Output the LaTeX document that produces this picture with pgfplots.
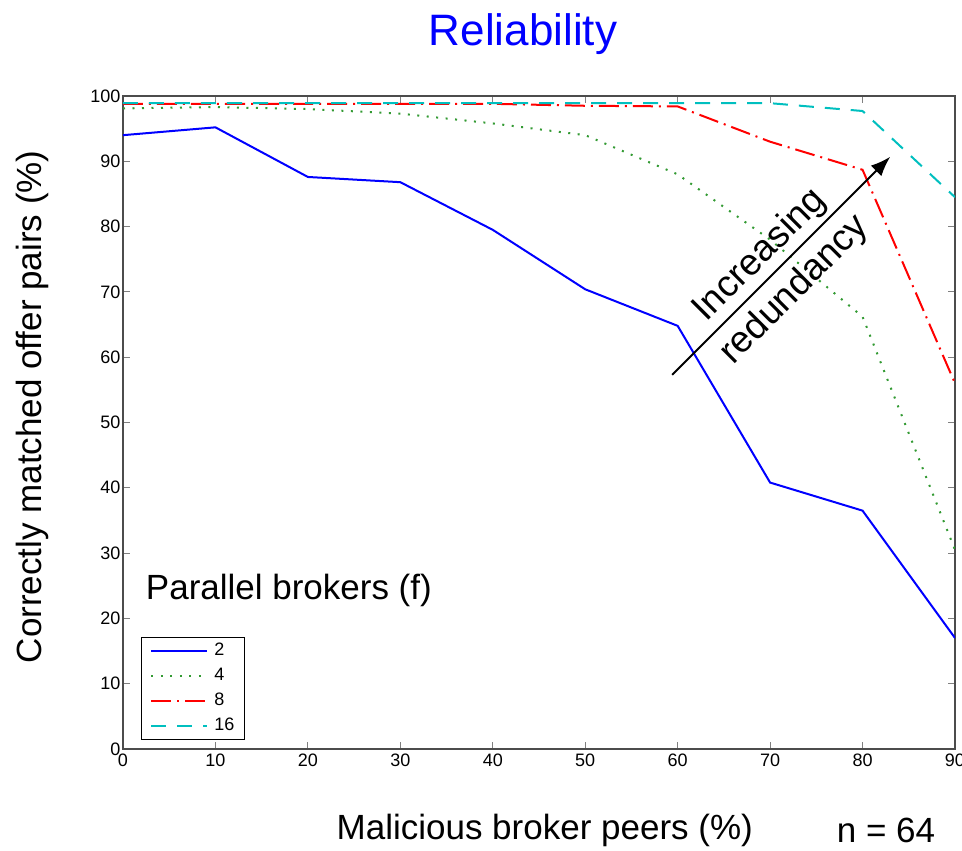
\documentclass[border=0pt]{standalone}
\usepackage{fontspec}
\setmainfont{Liberation Sans}
\usepackage{pgfplots}
\pgfplotsset{compat=1.18}
\usetikzlibrary{arrows.meta}

\definecolor{mblue}{RGB}{0,0,255}
\definecolor{mgreen}{RGB}{0,128,0}
\definecolor{mred}{RGB}{255,0,0}
\definecolor{mcyan}{RGB}{0,191,191}

\begin{document}
\begin{tikzpicture}
% page = 962 x 851, plot area lower left at (0,0)
\path[use as bounding box] (-123pt,-102pt) rectangle (839pt,749pt);
\begin{axis}[
  at={(0,0)}, anchor=south west,
  scale only axis,
  width=832pt, height=653pt,
  xmin=0, xmax=90, ymin=0, ymax=100,
  xtick={0,10,...,90}, ytick={0,10,...,100},
  tick align=inside,
  major tick length=7pt,
  tick style={draw=black!50, line width=1pt},
  axis line style={draw=black!70, line width=1.3pt},
  ticklabel style={font=\fontsize{18}{21}\selectfont},
  /pgf/number format/assume math mode=true,
  xticklabel style={yshift=-1pt},
  yticklabel style={xshift=1pt},
  xlabel={Malicious broker peers (\%)},
  xlabel style={at={(axis description cs:0.507,-0.124)}, anchor=center,
    font=\fontsize{35}{40}\selectfont},
  ylabel={Correctly matched offer pairs (\%)},
  ylabel style={at={(axis description cs:-0.109,0.524)}, anchor=center,
    font=\fontsize{35}{40}\selectfont},
  legend style={at={(axis description cs:0.0216,0.1715)}, anchor=north west,
    font=\fontsize{18}{21}\selectfont, draw=black, line width=1pt,
    inner xsep=9pt, inner ysep=5pt, row sep=8pt, column sep=5pt,
    nodes={inner sep=1pt, text height=12pt, text depth=3pt}},
  legend image code/.code={\draw[#1] (0pt,0pt) -- (56pt,0pt);},
  legend cell align=left,
]
\addplot[mblue, line width=2pt] coordinates {
  (0,94.0) (10,95.2) (20,87.6) (30,86.8) (40,79.5)
  (50,70.4) (60,64.8) (70,40.8) (80,36.5) (90,17.0)
};
\addlegendentry{2}
\addplot[mgreen!80, line width=2pt, dash pattern=on 2pt off 7.5pt] coordinates {
  (0,98.1) (10,98.3) (20,98.0) (30,97.3) (40,95.8)
  (50,94.0) (60,88.0) (70,78.0) (80,66.2) (90,30.5)
};
\addlegendentry{4}
\addplot[mred, line width=2pt, dash pattern=on 20pt off 6pt on 2pt off 6pt] coordinates {
  (0,98.8) (10,98.8) (20,98.8) (30,98.8) (40,98.8)
  (50,98.5) (60,98.4) (70,93.0) (80,88.7) (90,56.0)
};
\addlegendentry{8}
\addplot[mcyan, line width=2pt, dash pattern=on 15pt off 11pt] coordinates {
  (0,98.9) (10,98.9) (20,98.9) (30,98.9) (40,98.9)
  (50,98.9) (60,98.9) (70,98.9) (80,97.7) (90,84.5)
};
\addlegendentry{16}

% annotations
\draw[line width=2pt, -{Latex[length=20pt,width=15pt]}]
  (axis cs:59.4,57.3) -- (axis cs:83.0,90.7);
\node[rotate=45, align=center, font=\fontsize{37}{49}\selectfont]
  at (axis cs:70.8,72.9) {Increasing\\redundancy};
\node[anchor=west, font=\fontsize{35}{40}\selectfont]
  at (axis cs:2.1,24.3) {Parallel brokers (f)};
\end{axis}
\node[font=\fontsize{44}{50}\selectfont, text=mblue, anchor=base]
  at (400pt,703pt) {Reliability};
\node[font=\fontsize{35}{40}\selectfont, anchor=center]
  at (763pt,-81pt) {n = 64};
\end{tikzpicture}
\end{document}
